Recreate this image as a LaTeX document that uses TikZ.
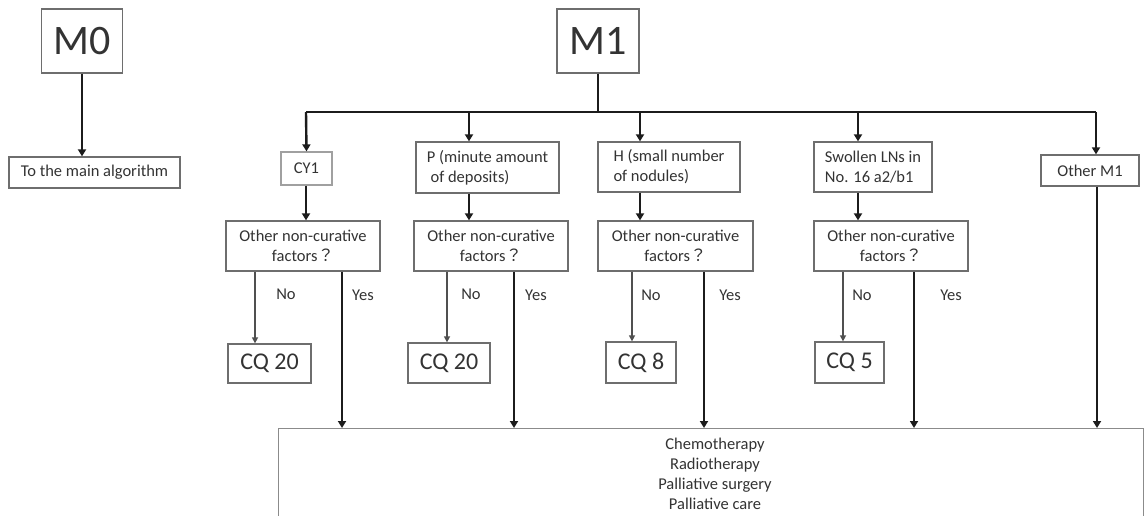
\documentclass[tikz,border=0pt]{standalone}
\usepackage{fontspec}
\setmainfont{Carlito}
\newfontfamily\cjk{Noto Sans CJK JP}
\usetikzlibrary{arrows.meta}
\definecolor{txt}{HTML}{333333}
\definecolor{boxc}{HTML}{6E6E6E}
\definecolor{lightbox}{HTML}{A0A0A0}
\definecolor{linec}{HTML}{1C1C1C}
\definecolor{noc}{HTML}{505050}
\newcommand{\fq}{{\cjk ？}}
\begin{document}
\begin{tikzpicture}[x=1pt,y=-1pt,
  box/.style={draw=boxc, line width=1.3pt, inner sep=0pt, text=txt, align=center,
    font=\fontsize{16.5}{20}\selectfont},
  big/.style={box, font=\fontsize{42}{46}\selectfont},
  cq/.style={box, font=\fontsize{24}{28}\selectfont},
  lbl/.style={text=txt, inner sep=0pt, font=\fontsize{16.5}{20}\selectfont},
  arr/.style={draw=linec, line width=2.4pt, -{Triangle[length=7pt,width=8pt]}},
  bus/.style={draw=linec, line width=2.4pt},
  noarr/.style={draw=noc, line width=1.4pt, -{Triangle[length=6pt,width=6pt]}}
]
\useasboundingbox (0,0) rectangle (1147,515);
\clip (0,0) rectangle (1147,515);
\fill[white] (0,0) rectangle (1147,515);

% left branch
\node[big, minimum width=81, minimum height=64] (m0) at (82,41) {M0};
\node[box, minimum width=171, minimum height=31] (main) at (94.5,172.5) {To the main algorithm};
\draw[arr] (m0.south) -- (main.north -| m0.south);

% M1 and bus
\node[big, minimum width=82, minimum height=64] (m1) at (598,41) {M1};
\coordinate (busL) at (306,112);
\coordinate (busR) at (1096,112);
\coordinate (bM) at (m1.south |- busL);
\coordinate (bP) at (469,112);
\coordinate (bH) at (640,112);
\coordinate (bS) at (858,112);
\draw[bus] (m1.south) -- (bM);
\draw[bus] (busL) -- (busR);

% second row boxes
\node[box, draw=lightbox, minimum width=51, minimum height=33] (cy1) at (306.5,168.5) {CY1};
\node[box, minimum width=143, minimum height=51, align=left] (p) at (487.5,167.5) {P (minute amount\\ \ of deposits)};
\node[box, minimum width=142, minimum height=50, align=left] (h) at (669,167) {H (small number\\of nodules)};
\node[box, minimum width=118, minimum height=50, align=left] (sw) at (873,167) {Swollen LNs in\\No. 16 a2/b1};
\node[box, minimum width=98, minimum height=31] (om1) at (1090,170.5) {Other M1};

\draw[arr] (busL) -- (cy1.north);
\draw[arr] (bP) -- (bP |- p.north);
\draw[arr] (bH) -- (bH |- h.north);
\draw[arr] (bS) -- (bS |- sw.north);
\draw[arr] (busR) -- (busR |- om1.north);

% decision boxes
\node[box, minimum width=154, minimum height=50] (d1) at (303,246) {Other non-curative\\factors\fq};
\node[box, minimum width=154, minimum height=50] (d2) at (491,246) {Other non-curative\\factors\fq};
\node[box, minimum width=155, minimum height=50] (d3) at (675.5,246) {Other non-curative\\factors\fq};
\node[box, minimum width=154, minimum height=50] (d4) at (891,246) {Other non-curative\\factors\fq};

\draw[arr] (cy1.south -| busL) -- (d1.north -| busL);
\draw[arr] (p.south -| bP) -- (d2.north -| bP);
\draw[arr] (h.south -| bH) -- (d3.north -| bH);
\draw[arr] (sw.south -| bS) -- (d4.north -| bS);

% CQ boxes
\node[cq, minimum width=83, minimum height=39] (cq1) at (269.5,363.5) {CQ 20};
\node[cq, minimum width=82, minimum height=40] (cq2) at (449,363) {CQ 20};
\node[cq, minimum width=70, minimum height=41] (cq3) at (641,362.5) {CQ 8};
\node[cq, minimum width=69, minimum height=41] (cq4) at (849.5,362.5) {CQ 5};

\coordinate (n1) at (255,0);
\coordinate (n2) at (447,0);
\coordinate (n3) at (632,0);
\coordinate (n4) at (843,0);
\draw[noarr] (d1.south -| n1) -- (cq1.north -| n1);
\draw[noarr] (d2.south -| n2) -- (cq2.north -| n2);
\draw[noarr] (d3.south -| n3) -- (cq3.north -| n3);
\draw[noarr] (d4.south -| n4) -- (cq4.north -| n4);

\node[lbl] (no1) at (286,294) {No};
\node[lbl] (no2) at (471,294) {No};
\node[lbl] (no3) at (651,295) {No};
\node[lbl] (no4) at (862,295) {No};
\node[lbl] (ye1) at (363,295) {Yes};
\node[lbl] (ye2) at (536,295) {Yes};
\node[lbl] (ye3) at (730,295) {Yes};
\node[lbl] (ye4) at (951,295) {Yes};

% bottom box
\node[draw=boxc!80, line width=1.3pt, minimum width=865, minimum height=140, inner sep=0pt, anchor=north west] (bot) at (278,428) {};
\node[lbl, align=center] (bottxt) at (715,474) {Chemotherapy\\Radiotherapy\\Palliative surgery\\Palliative care};

\coordinate (y1) at (342,0);
\coordinate (y2) at (514,0);
\coordinate (y3) at (704,0);
\coordinate (y4) at (914,0);
\coordinate (y5) at (1097,0);
\draw[arr] (d1.south -| y1) -- (bot.north -| y1);
\draw[arr] (d2.south -| y2) -- (bot.north -| y2);
\draw[arr] (d3.south -| y3) -- (bot.north -| y3);
\draw[arr] (d4.south -| y4) -- (bot.north -| y4);
\draw[arr] (om1.south -| y5) -- (bot.north -| y5);
\end{tikzpicture}
\end{document}
